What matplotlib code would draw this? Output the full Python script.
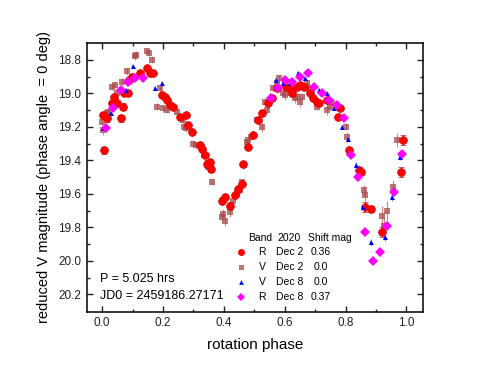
import matplotlib
matplotlib.use('Agg')
import matplotlib.pyplot as plt

plt.rcParams['font.family'] = ['Liberation Sans', 'DejaVu Sans']

# R band, Dec 2 (shift 0.36)
r2_phase = [0.003, 0.007, 0.016, 0.033, 0.040, 0.049, 0.062, 0.070, 0.072, 0.086,
            0.090, 0.098, 0.125, 0.148, 0.158, 0.168, 0.197, 0.207, 0.213, 0.224,
            0.234, 0.257, 0.276, 0.283, 0.296, 0.322, 0.329, 0.339, 0.345, 0.355,
            0.359, 0.395, 0.405, 0.420, 0.437, 0.447, 0.460, 0.464, 0.480, 0.497,
            0.513, 0.526, 0.546, 0.559, 0.576, 0.605, 0.618, 0.625, 0.641, 0.651,
            0.664, 0.684, 0.694, 0.707, 0.714, 0.740, 0.776, 0.783, 0.812, 0.845,
            0.852, 0.865, 0.885, 0.921, 0.984, 0.990]
r2_mag = [19.13, 19.34, 19.15, 19.06, 19.02, 19.06, 19.15, 19.08, 19.00, 19.00,
          18.92, 18.90, 18.88, 18.85, 18.88, 18.88, 19.01, 19.02, 19.04, 19.07,
          19.08, 19.14, 19.13, 19.19, 19.23, 19.31, 19.33, 19.37, 19.42, 19.41,
          19.45, 19.64, 19.62, 19.67, 19.61, 19.57, 19.54, 19.42, 19.32, 19.25,
          19.16, 19.12, 19.06, 19.03, 18.97, 18.96, 18.97, 19.00, 18.96, 18.95,
          18.96, 19.00, 19.03, 19.05, 19.06, 19.04, 19.14, 19.09, 19.34, 19.46,
          19.47, 19.68, 19.69, 19.83, 19.47, 19.28]
r2_err = [0.02, 0.02, 0.02, 0.01, 0.01, 0.01, 0.02, 0.02, 0.01, 0.01,
          0.01, 0.01, 0.01, 0.01, 0.01, 0.01, 0.01, 0.01, 0.01, 0.01,
          0.01, 0.01, 0.01, 0.01, 0.01, 0.01, 0.01, 0.01, 0.02, 0.01,
          0.02, 0.02, 0.01, 0.02, 0.01, 0.01, 0.01, 0.01, 0.01, 0.01,
          0.01, 0.01, 0.01, 0.01, 0.01, 0.01, 0.01, 0.01, 0.01, 0.01,
          0.01, 0.01, 0.01, 0.01, 0.01, 0.01, 0.01, 0.01, 0.02, 0.02,
          0.02, 0.03, 0.02, 0.03, 0.03, 0.03]

# V band, Dec 2 (shift 0.0)
v2_phase = [0.000, 0.003, 0.016, 0.020, 0.033, 0.043, 0.049, 0.066, 0.082, 0.099,
            0.109, 0.112, 0.148, 0.155, 0.164, 0.181, 0.191, 0.201, 0.214, 0.230,
            0.247, 0.266, 0.268, 0.276, 0.300, 0.310, 0.332, 0.336, 0.349, 0.362,
            0.395, 0.398, 0.405, 0.420, 0.430, 0.444, 0.454, 0.461, 0.466, 0.477,
            0.480, 0.490, 0.510, 0.526, 0.536, 0.543, 0.550, 0.563, 0.576, 0.582,
            0.595, 0.600, 0.618, 0.635, 0.641, 0.651, 0.658, 0.674, 0.678, 0.707,
            0.740, 0.750, 0.757, 0.800, 0.806, 0.845, 0.862, 0.865, 0.921, 0.928,
            0.937, 0.957, 0.970]
v2_mag = [19.17, 19.22, 19.12, 19.11, 18.96, 18.95, 19.00, 18.93, 18.87, 18.90,
          18.78, 18.77, 18.75, 18.76, 18.80, 19.08, 18.97, 19.09, 19.10, 19.08,
          19.11, 19.16, 19.20, 19.21, 19.30, 19.31, 19.34, 19.37, 19.44, 19.53,
          19.74, 19.72, 19.76, 19.71, 19.64, 19.60, 19.58, 19.53, 19.43, 19.29,
          19.28, 19.26, 19.16, 19.20, 19.05, 19.10, 19.06, 18.97, 18.94, 18.91,
          19.00, 19.01, 19.00, 19.03, 19.02, 19.05, 19.02, 18.94, 18.97, 19.08,
          19.10, 19.08, 19.06, 19.20, 19.26, 19.46, 19.58, 19.61, 19.73, 19.79,
          19.70, 19.56, 19.28]
v2_err = [0.02, 0.03, 0.02, 0.02, 0.02, 0.02, 0.02, 0.02, 0.02, 0.02,
          0.02, 0.02, 0.01, 0.02, 0.02, 0.02, 0.02, 0.02, 0.02, 0.02,
          0.02, 0.02, 0.02, 0.02, 0.02, 0.02, 0.02, 0.02, 0.02, 0.02,
          0.03, 0.03, 0.03, 0.03, 0.02, 0.02, 0.02, 0.02, 0.02, 0.02,
          0.02, 0.02, 0.02, 0.03, 0.02, 0.02, 0.02, 0.02, 0.02, 0.02,
          0.02, 0.03, 0.02, 0.03, 0.02, 0.03, 0.02, 0.02, 0.03, 0.02,
          0.03, 0.02, 0.02, 0.02, 0.03, 0.03, 0.03, 0.03, 0.06, 0.05,
          0.06, 0.04, 0.04]

# V band, Dec 8 (shift 0.0)
v8_phase = [0.004, 0.030, 0.079, 0.100, 0.174, 0.197, 0.572, 0.595, 0.618, 0.644,
            0.668, 0.714, 0.740, 0.763, 0.789, 0.809, 0.836, 0.859, 0.885, 0.931,
            0.954, 0.980]
v8_mag = [19.21, 19.12, 18.98, 18.84, 18.97, 18.94, 18.92, 18.94, 18.94, 18.88,
          18.91, 18.98, 19.00, 19.09, 19.20, 19.27, 19.43, 19.68, 19.89, 19.86,
          19.62, 19.38]
v8_err = [0.02, 0.01, 0.01, 0.01, 0.01, 0.01, 0.01, 0.01, 0.01, 0.01,
          0.01, 0.01, 0.01, 0.01, 0.01, 0.01, 0.02, 0.02, 0.02, 0.02,
          0.02, 0.02]

# R band, Dec 8 (shift 0.37)
r8_phase = [0.013, 0.036, 0.062, 0.085, 0.109, 0.135, 0.556, 0.579, 0.602, 0.625,
            0.651, 0.678, 0.697, 0.724, 0.747, 0.773, 0.796, 0.819, 0.842, 0.865,
            0.891, 0.914, 0.938, 0.961, 0.987]
r8_mag = [19.21, 19.09, 18.98, 18.93, 18.91, 18.91, 19.03, 18.97, 18.92, 18.93,
          18.90, 18.88, 18.96, 19.00, 19.04, 19.07, 19.15, 19.37, 19.50, 19.83,
          20.00, 19.95, 19.79, 19.59, 19.36]
r8_err = [0.01, 0.01, 0.01, 0.01, 0.01, 0.01, 0.01, 0.01, 0.01, 0.01,
          0.01, 0.01, 0.01, 0.01, 0.01, 0.01, 0.01, 0.01, 0.02, 0.02,
          0.02, 0.02, 0.02, 0.02, 0.02]

legend_rows = [('R', 'Dec 2', '0.36'), ('V', 'Dec 2', '0.0'),
               ('V', 'Dec 8', '0.0'), ('R', 'Dec 8', '0.37')]

fig = plt.figure(figsize=(4.88, 3.74), dpi=100)
ax = fig.add_axes([0.178, 0.166, 0.689, 0.719])

brown = '#a84a4a'
ax.errorbar(v2_phase, v2_mag, yerr=v2_err, fmt='s', ms=4, color=brown, alpha=0.75,
            ecolor='#b86060', elinewidth=0.8, capsize=2, capthick=0.8, mew=0, zorder=2)
ax.errorbar(r2_phase, r2_mag, yerr=r2_err, fmt='o', ms=5.6, color='#ff0000', mec='#dd0000',
            mew=0.5, ecolor='#cc2020', elinewidth=0.8, capsize=2, capthick=0.8, zorder=3)
ax.errorbar(v8_phase, v8_mag, yerr=v8_err, fmt='^', ms=3.6, color='#0000ff', mew=0,
            ecolor='#8888ff', elinewidth=0.8, capsize=1.5, capthick=0.8, zorder=4)
ax.errorbar(r8_phase, r8_mag, yerr=r8_err, fmt='D', ms=4.6, color='#ff00ff', mew=0,
            ecolor='#ff99ff', elinewidth=0.8, capsize=1.5, capthick=0.8, zorder=5)

ax.set_xlim(-0.05, 1.055)
ax.set_ylim(20.305, 18.7)
ax.set_xticks([0.0, 0.2, 0.4, 0.6, 0.8, 1.0])
ax.set_xticks([0.1, 0.3, 0.5, 0.7, 0.9], minor=True)
ax.set_yticks([18.8, 19.0, 19.2, 19.4, 19.6, 19.8, 20.0, 20.2])
ax.set_yticks([18.9, 19.1, 19.3, 19.5, 19.7, 19.9, 20.1], minor=True)
ax.set_xticklabels(['0.0', '0.2', '0.4', '0.6', '0.8', '1.0'])
ax.set_yticklabels(['18.8', '19.0', '19.2', '19.4', '19.6', '19.8', '20.0', '20.2'])
ax.tick_params(which='both', direction='in', top=True, right=True, labelsize=8.5,
               width=1, pad=4, colors='#222222')
ax.tick_params(which='major', length=4)
ax.tick_params(which='minor', length=2)
for s in ax.spines.values():
    s.set_linewidth(1.1)

ax.set_xlabel('rotation phase', fontsize=11, labelpad=6)
ax.set_ylabel('reduced V magnitude (phase angle  = 0 deg)', fontsize=10.5, labelpad=5)

# period / epoch text
ax.text(0.039, 0.123, 'P = 5.025 hrs', transform=ax.transAxes, fontsize=9, va='center')
ax.text(0.039, 0.06, 'JD0 = 2459186.27171', transform=ax.transAxes, fontsize=9, va='center')

# table-style legend
ax.text(0.479, 0.275, 'Band', transform=ax.transAxes, fontsize=7.5, va='center')
ax.text(0.568, 0.275, '2020', transform=ax.transAxes, fontsize=7.5, va='center')
ax.text(0.658, 0.275, 'Shift mag', transform=ax.transAxes, fontsize=7.5, va='center')
leg_y = [0.223, 0.166, 0.112, 0.056]
leg_style = [dict(marker='o', ms=5, color='#ff0000'),
             dict(marker='s', ms=3.6, color=brown, alpha=0.75),
             dict(marker='^', ms=3.4, color='#0000ff'),
             dict(marker='D', ms=4.4, color='#ff00ff')]
for (band, day, shift), y, st in zip(legend_rows, leg_y, leg_style):
    ax.plot([0.458], [y], transform=ax.transAxes, ls='none', mew=0, clip_on=False, **st)
    ax.text(0.521, y, band, transform=ax.transAxes, fontsize=7.5, va='center', ha='center')
    ax.text(0.563, y, day, transform=ax.transAxes, fontsize=7.5, va='center')
    ax.text(0.695, y, shift, transform=ax.transAxes, fontsize=7.5, va='center', ha='center')

fig.savefig('out.png', dpi=100)
